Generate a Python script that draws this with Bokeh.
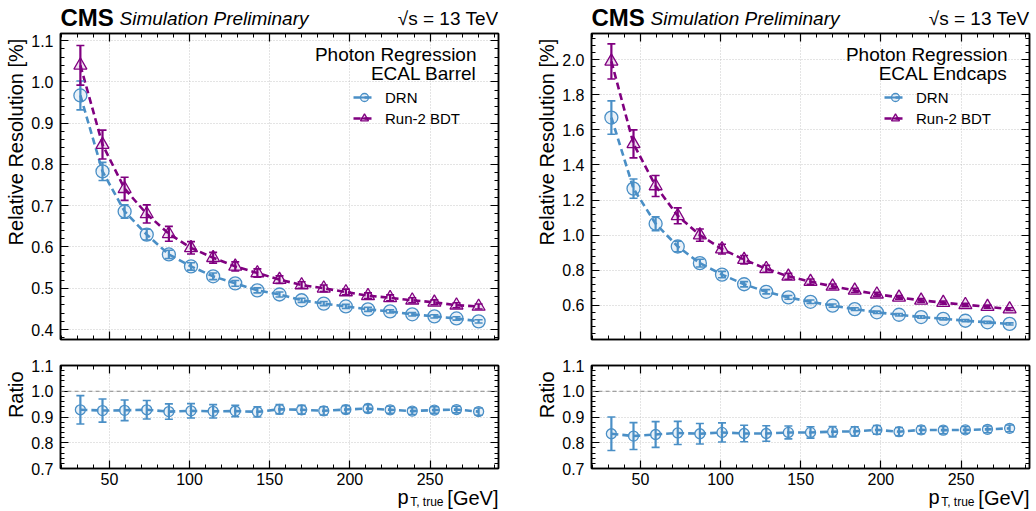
import math
from bokeh.plotting import figure
from bokeh.models import (ColumnDataSource, Whisker, TeeHead, Label, Legend, LegendItem,
                          LinearAxis, SingleIntervalTicker, Range1d, Span, NumeralTickFormatter)
from bokeh.layouts import row, column
from bokeh.embed import file_html
from bokeh.resources import INLINE

# ---------------- data ----------------
pt_centers = [31.9, 45.7, 59.5, 73.3, 87.1, 100.9, 114.7, 128.5, 142.3, 156.1,
              169.9, 183.7, 197.5, 211.3, 225.1, 238.9, 252.7, 266.5, 280.3]

barrel_drn = [0.967, 0.783, 0.686, 0.630, 0.582, 0.553, 0.529, 0.512, 0.495, 0.485,
              0.471, 0.463, 0.456, 0.449, 0.444, 0.437, 0.432, 0.427, 0.420]
barrel_drn_err = [0.035, 0.022, 0.016, 0.013, 0.010, 0.009, 0.008, 0.007, 0.006, 0.006,
                  0.005, 0.005, 0.005, 0.005, 0.004, 0.004, 0.004, 0.004, 0.004]
barrel_bdt = [1.040, 0.848, 0.741, 0.680, 0.632, 0.598, 0.574, 0.553, 0.537, 0.521,
              0.508, 0.500, 0.491, 0.482, 0.477, 0.471, 0.466, 0.459, 0.456]
barrel_bdt_err = [0.048, 0.035, 0.028, 0.022, 0.018, 0.015, 0.013, 0.011, 0.010, 0.009,
                  0.008, 0.008, 0.007, 0.007, 0.007, 0.006, 0.006, 0.006, 0.006]
barrel_ratio = [0.928, 0.925, 0.926, 0.928, 0.921, 0.924, 0.922, 0.923, 0.920, 0.930,
                0.928, 0.924, 0.929, 0.933, 0.928, 0.923, 0.927, 0.929, 0.921]
barrel_ratio_err = [0.055, 0.045, 0.040, 0.036, 0.030, 0.028, 0.026, 0.022, 0.020, 0.018,
                    0.017, 0.016, 0.015, 0.015, 0.014, 0.013, 0.013, 0.013, 0.014]

endcap_drn = [1.670, 1.265, 1.065, 0.935, 0.840, 0.775, 0.720, 0.677, 0.645, 0.620,
              0.598, 0.578, 0.560, 0.546, 0.533, 0.523, 0.512, 0.503, 0.494]
endcap_drn_err = [0.095, 0.055, 0.040, 0.030, 0.022, 0.018, 0.015, 0.012, 0.011, 0.010,
                  0.009, 0.008, 0.007, 0.007, 0.007, 0.006, 0.006, 0.006, 0.006]
endcap_bdt = [1.990, 1.520, 1.280, 1.110, 1.000, 0.920, 0.860, 0.808, 0.765, 0.735,
              0.708, 0.685, 0.663, 0.645, 0.628, 0.615, 0.603, 0.592, 0.578]
endcap_bdt_err = [0.100, 0.080, 0.060, 0.045, 0.035, 0.028, 0.024, 0.020, 0.017, 0.015,
                  0.013, 0.012, 0.011, 0.010, 0.010, 0.009, 0.009, 0.009, 0.008]
endcap_ratio = [0.835, 0.826, 0.832, 0.838, 0.835, 0.840, 0.836, 0.836, 0.840, 0.840,
                0.843, 0.844, 0.850, 0.843, 0.850, 0.849, 0.850, 0.852, 0.856]
endcap_ratio_err = [0.065, 0.052, 0.050, 0.045, 0.040, 0.037, 0.032, 0.030, 0.025, 0.022,
                    0.020, 0.018, 0.017, 0.016, 0.015, 0.014, 0.013, 0.013, 0.013]

series_names = ["DRN", "Run-2 BDT"]
region_names = ["ECAL Barrel", "ECAL Endcaps"]

# ---------------- style ----------------
FONT = "Liberation Sans"
BLUE = "#4a8fc6"
PURPLE = "#800080"
HEAD_H = 32
H1 = 320
H2 = 136
XL_H = 22
FH1 = 306
X_RANGE = (19.5, 292.7)
NB = "\u00a0"


def setup_axes(p, xint, yint, show_xlabels, ylabel):
    xt = SingleIntervalTicker(interval=xint, num_minor_ticks=5)
    yt = SingleIntervalTicker(interval=yint, num_minor_ticks=5)
    p.xaxis.ticker = xt
    p.yaxis.ticker = yt
    p.xgrid.ticker = xt
    p.ygrid.ticker = yt
    p.yaxis.formatter = NumeralTickFormatter(format="0.0")
    right = LinearAxis(ticker=yt)
    above = LinearAxis(ticker=xt)
    p.add_layout(right, "right")
    p.add_layout(above, "above")
    axes = list(p.xaxis) + list(p.yaxis)
    for ax in axes:
        ax.major_tick_in = 8
        ax.major_tick_out = 0
        ax.minor_tick_in = 4
        ax.minor_tick_out = 0
        ax.axis_line_color = "black"
        ax.axis_line_width = 1.5
        ax.major_tick_line_color = "black"
        ax.major_tick_line_width = 1.2
        ax.minor_tick_line_color = "black"
        ax.minor_tick_line_width = 1
        ax.major_label_text_font = FONT
        ax.major_label_text_font_size = "16px"
        ax.major_label_text_color = "black"
        ax.major_label_standoff = 7
    hidden = [right, above]
    if not show_xlabels:
        hidden += list(p.below)
    for ax in hidden:
        ax.major_label_text_font_size = "1px"
        ax.major_label_text_alpha = 0
        ax.major_label_standoff = 0
        ax.axis_label_standoff = 0
    for ax in p.left:
        ax.axis_label = ylabel
        ax.axis_label_text_font = FONT
        ax.axis_label_text_font_size = "20px"
        ax.axis_label_text_font_style = "normal"
        ax.axis_label_text_color = "black"
        ax.axis_label_standoff = 1
    p.grid.grid_line_color = "#b0b0b0"
    p.grid.grid_line_alpha = 0.7
    p.grid.grid_line_dash = "1 2"
    p.grid.grid_line_width = 1
    p.outline_line_color = "black"
    p.outline_line_width = 1.5


def draw_series(p, x, y, err, color, marker, size):
    lo = [a - b for a, b in zip(y, err)]
    hi = [a + b for a, b in zip(y, err)]
    src = ColumnDataSource(dict(x=x, y=y, lo=lo, hi=hi))
    ln = p.line("x", "y", source=src, line_color=color, line_width=2.6, line_dash="7 4")
    wh = Whisker(base="x", upper="hi", lower="lo", source=src, line_color=color,
                 line_width=2.2, level="glyph",
                 upper_head=TeeHead(size=8, line_color=color, line_width=1.6),
                 lower_head=TeeHead(size=8, line_color=color, line_width=1.6))
    p.add_layout(wh)
    sc = p.scatter("x", "y", source=src, marker=marker, size=size, line_color=color,
                   fill_color=color, fill_alpha=0.12, line_width=1.3)
    return ln, sc


def lab(p, x, y_base, text, size_px, align="left", style="normal"):
    # y_base: wanted baseline height above the frame bottom; text is anchored at its middle
    p.add_layout(Label(x=x, y=y_base + 0.35 * size_px, x_units="screen", y_units="screen",
                       text=text, text_font=FONT, text_font_size=f"{size_px}px",
                       text_align=align, text_baseline="middle", text_font_style=style,
                       text_color="black"))


def fig(**kw):
    return figure(output_backend="svg", toolbar_location=None, title=None, **kw)


def strip(width, height):
    s = fig(width=width, height=height, x_range=Range1d(0, 1), y_range=Range1d(0, 1),
            x_axis_location=None, y_axis_location=None, min_border=0)
    s.grid.visible = False
    s.outline_line_color = None
    return s


def make_panel(frame_w, bl, br, yr, yint, drn, drn_err, bdt, bdt_err, ratio, ratio_err, region):
    width = bl + frame_w + br

    # header (its frame is aligned with the plot frame below)
    head = strip(width, HEAD_H)
    lab(head, 0, 7, "CMS", 24, style="bold")
    lab(head, 59, 7, "Simulation Preliminary", 19, style="italic")
    lab(head, frame_w, 7, "\u221as = 13 TeV", 19, align="right")

    p = fig(width=width, height=H1, x_range=Range1d(*X_RANGE), y_range=Range1d(*yr),
            min_border_left=bl, min_border_right=br, min_border_top=1, min_border_bottom=13)
    setup_axes(p, 50, yint, False, NB * 16 + "Relative Resolution [%]")
    l1, s1 = draw_series(p, pt_centers, drn, drn_err, BLUE, "circle", 13)
    l2, s2 = draw_series(p, pt_centers, bdt, bdt_err, PURPLE, "triangle", 13)
    b1 = p.scatter(x=[-1000], y=[0], marker="dash", angle=math.pi / 2, size=16,
                   line_color=BLUE, line_width=2)
    b2 = p.scatter(x=[-1000], y=[0], marker="dash", angle=math.pi / 2, size=16,
                   line_color=PURPLE, line_width=2)
    leg = Legend(items=[LegendItem(label=series_names[0], renderers=[l1, b1, s1]),
                        LegendItem(label=series_names[1], renderers=[l2, b2, s2])],
                 location=(293, 211), padding=0, margin=0, spacing=1,
                 glyph_width=22, glyph_height=20, label_height=20, label_standoff=10,
                 label_text_font=FONT, label_text_font_size="15px", label_text_color="black",
                 border_line_alpha=0, background_fill_alpha=0)
    p.add_layout(leg)
    lab(p, frame_w - 22, FH1 - 28, "Photon Regression", 19, align="right")
    lab(p, frame_w - 22, FH1 - 47, region, 19, align="right")

    r = fig(width=width, height=H2, x_range=p.x_range, y_range=Range1d(0.7, 1.1),
            min_border_left=bl, min_border_right=br, min_border_top=13, min_border_bottom=20)
    setup_axes(r, 50, 0.1, True, NB * 8 + "Ratio")
    for ax in r.below:
        ax.major_label_standoff = 4
    r.add_layout(Span(location=1.0, dimension="width", line_color="#888888",
                      line_dash="4 3", line_width=1))
    draw_series(r, pt_centers, ratio, ratio_err, BLUE, "circle", 10)

    # x-axis title (its frame is aligned with the plot frame above)
    xl = strip(width, XL_H)
    lab(xl, frame_w, 6, "[GeV]", 20, align="right")
    lab(xl, frame_w - 55, 4, "T, true", 12, align="right")
    lab(xl, frame_w - 90, 6.5, "p", 20, align="right")
    return column(head, p, r, xl)


left = make_panel(438, 60, 12, (0.376, 1.117), 0.1, barrel_drn, barrel_drn_err,
                  barrel_bdt, barrel_bdt_err, barrel_ratio, barrel_ratio_err, region_names[0])
right = make_panel(438, 81, 5, (0.405, 2.149), 0.2, endcap_drn, endcap_drn_err,
                   endcap_bdt, endcap_bdt_err, endcap_ratio, endcap_ratio_err, region_names[1])

layout = row(left, right)
open("out.html", "w").write(file_html(layout, INLINE))
